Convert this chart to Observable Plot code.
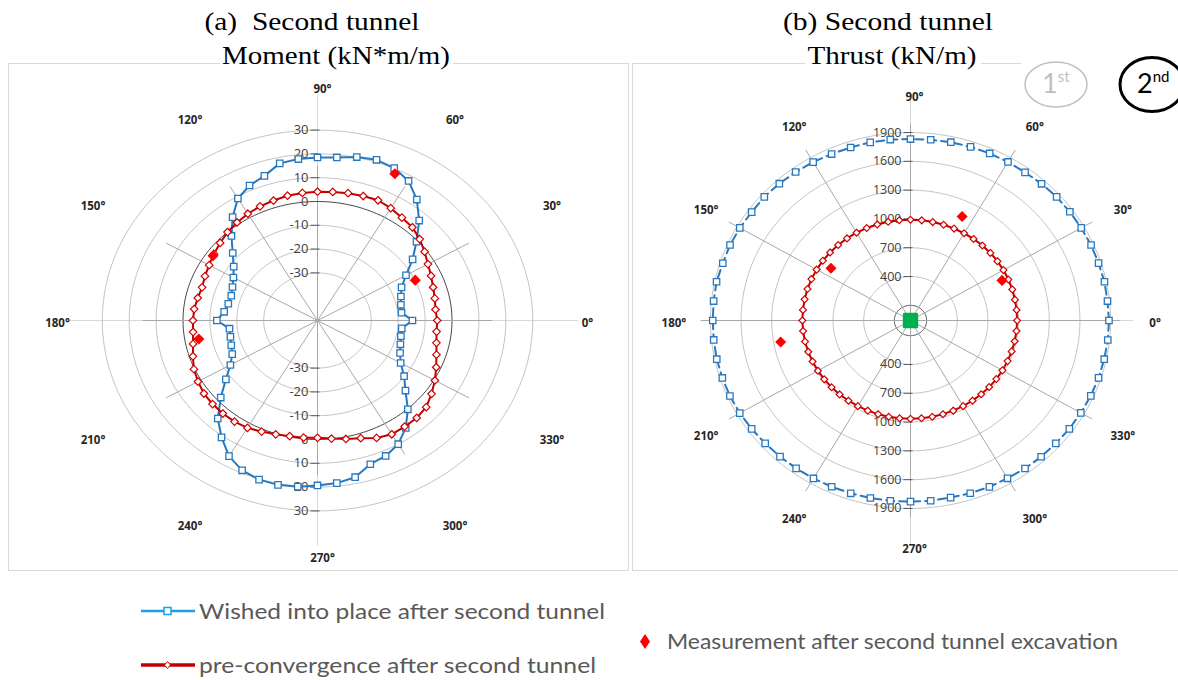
<!DOCTYPE html>
<html>
<head>
<meta charset="utf-8">
<script src="https://cdn.jsdelivr.net/npm/d3@7"></script>
<script src="https://cdn.jsdelivr.net/npm/@observablehq/plot@0.6"></script>
<style>
  html, body { margin: 0; padding: 0; background: #fff; }
  #root { position: relative; width: 1178px; height: 680px; overflow: hidden; background: #fff; }
  #root > svg { position: absolute; overflow: visible; }
</style>
</head>
<body>
<div id="root"></div>
<script>
// ---------------- data ----------------
const angles = [0,6,12,18,24,30,36,42,48,54,60,66,72,78,84,90,96,102,108,114,120,126,132,138,144,150,156,162,168,174,
                180,186,192,198,204,210,216,222,228,234,240,246,252,258,264,270,276,282,288,294,300,306,312,318,324,330,336,342,348,354];
const spokeAngles = [0,30,60,90,120,150,180,210,240,270,300,330];
const measurementAngles = [65, 25, 145, 190];

// (a) Moment (kN*m/m)
const momentTicks = [-30,-20,-10,0,10,20,30];
const momentRings = [-30,-20,-10,10,20,30];
const momentZeroRing = [0];
const momentWished = [-14.7,-18.6,-18.3,-17.4,-15.8,-12.0,-6.3,-0.5,6.5,12.8,17.7,20.1,21.0,20.2,18.9,18.5,18.2,17.5,13.9,12.1,
                      9.2,3.7,-2.2,-7.6,-11.5,-13.9,-15.4,-16.3,-16.1,-15.1,-12.6,-17.1,-16.9,-16.3,-15.3,-12.6,-7.9,-1.6,5.4,10.7,
                      15.8,18.9,20.3,20.6,20.2,19.3,18.7,17.3,13.5,12.3,10.0,5.8,0.2,-6.0,-10.2,-14.3,-16.4,-17.6,-18.3,-18.5];
const momentPreconv = [-5.5,-5.9,-5.4,-4.8,-3.8,-2.6,-0.8,1.1,2.7,3.4,4.5,5.3,5.0,4.7,4.3,4.1,3.9,3.6,3.0,2.5,
                       1.8,0.9,0.0,-1.3,-2.4,-3.5,-4.2,-4.9,-4.5,-3.9,-3.7,-3.5,-2.7,-1.3,0.3,1.3,2.2,2.5,2.6,2.5,
                       2.1,1.1,0.3,-0.3,-0.5,-0.7,-0.1,0.9,2.0,4.0,5.2,5.1,5.1,4.4,2.4,0.4,-1.7,-3.5,-4.8,-5.5];
const momentMeasured = [18.0, -9.9, -2.6, -5.2];

// (b) Thrust (kN/m)
const thrustTicks = [400,700,1000,1300,1600,1900];
const thrustRings = [400,700,1000,1300,1600,1900];
const thrustInnerRing = [100];
const thrustWished = [1884,1880,1882,1877,1876,1871,1869,1866,1858,1849,1849,1847,1844,1841,1835,1832,1837,1839,1837,1840,
                      1847,1854,1860,1867,1863,1871,1875,1873,1882,1879,1877,1878,1880,1878,1876,1871,1863,1855,1850,1846,
                      1842,1838,1835,1832,1830,1829,1830,1828,1834,1839,1840,1848,1852,1855,1863,1866,1873,1877,1880,1883];
const thrustPreconv = [985,986,987,989,990,992,993,994,993,992,991,990,990,990,991,991,992,993,994,996,
                       998,999,1000,1001,1002,1002,1003,1002,1001,1000,1000,999,997,994,991,988,985,981,978,975,
                       972,970,968,967,966,966,966,967,968,970,972,974,976,978,980,981,982,983,984,985];
const thrustMeasured = [1137, 930, 892, 1232];
const thrustFirstTunnelCore = [-58];

// ---------------- drawing ----------------
const RAD = Math.PI / 180;
const BLUE = "#2878bf", RED = "#c00000", MEAS = "#ff0000";
const diamond = d3.symbolDiamond2 || d3.symbolDiamond;
const root = document.getElementById("root");

function radar(cfg) {
  const u = v => v - cfg.base;
  const X = (a, v) => u(v) * Math.cos(a * RAD);
  const Y = (a, v) => u(v) * Math.sin(a * RAD);
  const D = cfg.half;
  const ringPts = vals => vals.flatMap(v => d3.range(0, 361, 2).map(a => ({a, v})));
  const rowsOf = vals => angles.map((a, i) => ({a, v: vals[i]}));
  const closed = rows => rows.concat([rows[0]]);
  const tickRows = cfg.ticks.flatMap(v => [{v, s: 1}, {v, s: -1}]);
  const wished = rowsOf(cfg.wished), preconv = rowsOf(cfg.preconv);
  const meas = measurementAngles.map((a, i) => ({a, v: cfg.measured[i]}));
  const px = d => X(d.a, d.v), py = d => Y(d.a, d.v);
  const marks = [
    Plot.link([cfg.hLine], {x1: d => d[0], x2: d => d[1], y1: () => 0, y2: () => 0, stroke: "#d9d9d9", strokeWidth: 1}),
    Plot.link([cfg.vLine], {x1: () => 0, x2: () => 0, y1: d => d[0], y2: d => d[1], stroke: "#d9d9d9", strokeWidth: 1}),
    Plot.line(ringPts(cfg.rings), {x: px, y: py, z: "v", stroke: "#c4c4c4", strokeWidth: 1}),
    Plot.line(ringPts(cfg.blackRing), {x: px, y: py, z: "v", stroke: "#333", strokeWidth: 0.9}),
    Plot.link(spokeAngles, {x1: () => 0, y1: () => 0, x2: a => X(a, cfg.spokeValue), y2: a => Y(a, cfg.spokeValue), stroke: "#a8a8a8", strokeWidth: 1}),
    Plot.link(tickRows, {x1: () => -7 / cfg.sx, x2: () => 2 / cfg.sx, y1: d => d.s * u(d.v), y2: d => d.s * u(d.v), stroke: "#595959", strokeWidth: 1}),
    Plot.text(tickRows, {x: () => 0, y: d => d.s * u(d.v), text: d => String(d.v), textAnchor: "end", dx: -9, fontSize: cfg.tickFont, fill: "#404040"}),
    Plot.text(spokeAngles, {x: a => X(a, cfg.labelValue), y: a => Y(a, cfg.labelValue), text: a => a + "°", dx: cfg.labelDx, dy: 3, fontSize: 11.5, fontWeight: "bold", fill: "#262626"}),
    Plot.line(closed(wished), {x: px, y: py, stroke: BLUE, strokeWidth: 2, strokeDasharray: cfg.dash}),
    Plot.dot(wished, {x: px, y: py, symbol: "square", r: 3.6, fill: "white", stroke: BLUE, strokeWidth: 1.3}),
    Plot.line(closed(preconv), {x: px, y: py, stroke: RED, strokeWidth: 2}),
    Plot.dot(preconv, {x: px, y: py, symbol: diamond, r: cfg.diamondR, fill: "white", stroke: "#d00000", strokeWidth: 1.2}),
    Plot.dot(meas, {x: px, y: py, symbol: diamond, r: 5, fill: MEAS})
  ];
  if (cfg.core) {
    marks.push(Plot.dot(cfg.core.map(v => ({a: 0, v})), {x: px, y: py, symbol: "square", r: 7, fill: "#00b050", stroke: "#00b050", strokeWidth: 3, strokeLinejoin: "round"}));
  }
  const svg = Plot.plot({
    width: cfg.width, height: cfg.height, margin: 0,
    x: {domain: [-D, D], range: [cfg.cx - cfg.sx * D, cfg.cx + cfg.sx * D], axis: null},
    y: {domain: [-D, D], range: [cfg.cy + cfg.sy * D, cfg.cy - cfg.sy * D], axis: null},
    style: {fontFamily: "'Open Sans', sans-serif", background: "transparent", overflow: "visible"},
    marks
  });
  svg.style.left = cfg.left + "px";
  svg.style.top = cfg.top + "px";
  return svg;
}

// background frames
const frames = `<svg width="1178" height="680" style="left:0;top:0">
  <rect x="8.5" y="63.5" width="620" height="507" fill="none" stroke="#d9d9d9"/>
  <rect x="632.5" y="63.5" width="570" height="507" fill="none" stroke="#d9d9d9"/>
</svg>`;
root.insertAdjacentHTML("beforeend", frames);

root.appendChild(radar({
  left: 8, top: 63, width: 620, height: 507, cx: 309, cy: 257,
  sx: 2.69, sy: 2.38, base: -50, half: 110,
  rings: momentRings, blackRing: momentZeroRing, ticks: momentTicks,
  spokeValue: 15, labelValue: 48.5, labelDx: 5,
  hLine: [-93, 97], vLine: [-94.5, 94.5], tickFont: 13,
  wished: momentWished, preconv: momentPreconv, measured: momentMeasured,
  dash: null, diamondR: 3.4
}));

root.appendChild(radar({
  left: 632, top: 63, width: 546, height: 507, cx: 278, cy: 257,
  sx: 0.1022, sy: 0.096, base: -58, half: 2700,
  rings: thrustRings, blackRing: thrustInnerRing, ticks: thrustTicks,
  spokeValue: 1994, labelValue: 2296, labelDx: 4,
  hLine: [-2052, 2180], vLine: [-2344, 2344], tickFont: 12.5,
  wished: thrustWished, preconv: thrustPreconv, measured: thrustMeasured,
  dash: "8,5", diamondR: 3.1, core: thrustFirstTunnelCore
}));

// titles, tunnel badges, legend
const overlay = `<svg width="1178" height="680" style="left:0;top:0">
  <g font-family="'Liberation Serif','Times New Roman',serif" font-size="26" fill="#000" text-anchor="middle">
    <rect x="220" y="45" width="233" height="24" fill="#fff"/>
    <rect x="805" y="45" width="176" height="24" fill="#fff"/>
    <text x="312" y="30" textLength="215" lengthAdjust="spacingAndGlyphs">(a)\u00a0 Second tunnel</text>
    <text x="336" y="64" textLength="228" lengthAdjust="spacingAndGlyphs">Moment (kN*m/m)</text>
    <text x="888" y="30" textLength="210" lengthAdjust="spacingAndGlyphs">(b) Second tunnel</text>
    <text x="892" y="64" textLength="169" lengthAdjust="spacingAndGlyphs">Thrust (kN/m)</text>
  </g>
  <rect x="1021" y="55" width="160" height="62" fill="#fff"/>
  <ellipse cx="1056" cy="84.5" rx="31" ry="22.5" fill="none" stroke="#bfbfbf" stroke-width="1.5"/>
  <text x="1042" y="93" font-family="Lato,'Open Sans',sans-serif" font-size="27" fill="#bfbfbf">1<tspan font-size="15" dy="-11">st</tspan></text>
  <ellipse cx="1152" cy="84.5" rx="32" ry="27" fill="none" stroke="#000" stroke-width="3"/>
  <text x="1137" y="93" font-family="Lato,'Open Sans',sans-serif" font-size="27" fill="#000">2<tspan font-size="15" dy="-11">nd</tspan></text>
  <g font-family="Lato,'Open Sans',sans-serif" font-size="21" fill="#595959">
    <line x1="141" y1="611" x2="195" y2="611" stroke="#1ba1e2" stroke-width="2.5"/>
    <rect x="164" y="607.5" width="7" height="7" fill="#fff" stroke="#1ba1e2" stroke-width="1.5"/>
    <text x="199" y="618.5" textLength="406" lengthAdjust="spacingAndGlyphs">Wished into place after second tunnel</text>
    <line x1="141" y1="665" x2="195" y2="665" stroke="#c00000" stroke-width="3.5"/>
    <path d="M167.5,661.5 L170.5,665 L167.5,668.5 L164.5,665 Z" fill="#fff" stroke="#c00000" stroke-width="1"/>
    <text x="199" y="672.5" textLength="397" lengthAdjust="spacingAndGlyphs">pre-convergence after second tunnel</text>
    <path d="M645,634 L650,641.5 L645,649 L640,641.5 Z" fill="#ff0000"/>
    <text x="667" y="649" textLength="451" lengthAdjust="spacingAndGlyphs">Measurement after second tunnel excavation</text>
  </g>
</svg>`;
root.insertAdjacentHTML("beforeend", overlay);
</script>
</body>
</html>
